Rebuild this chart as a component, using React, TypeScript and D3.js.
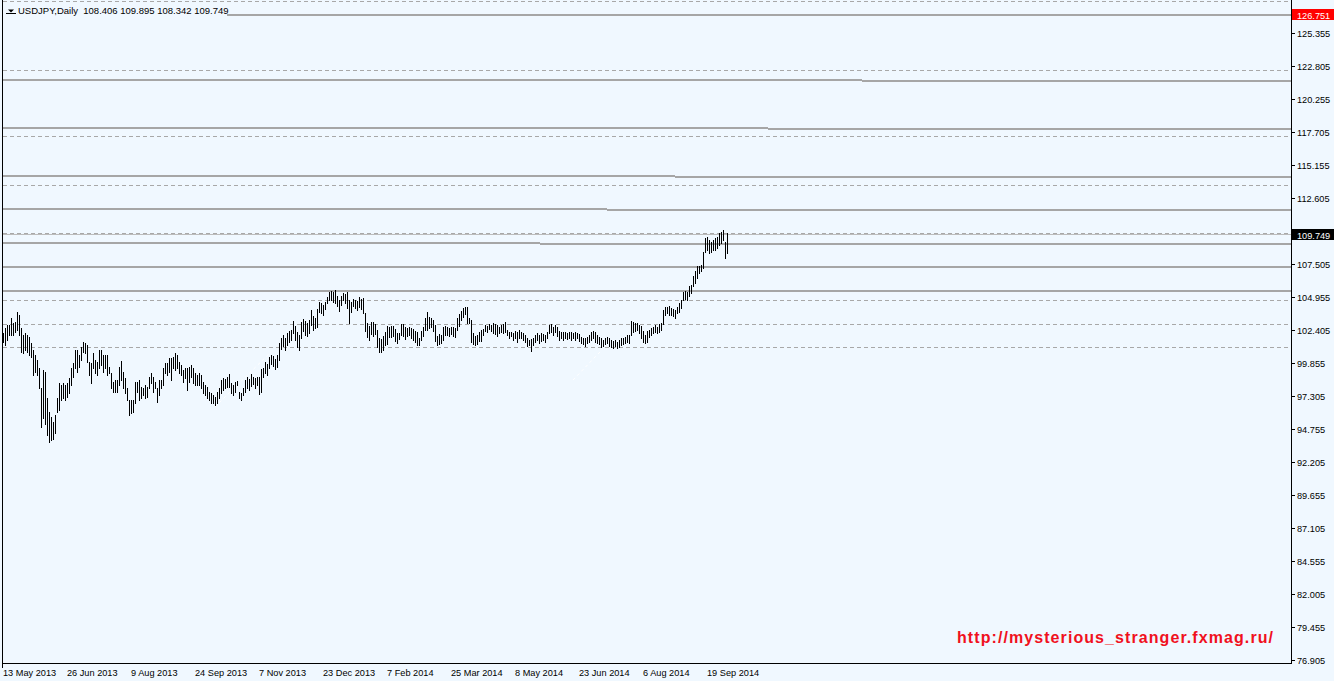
import React from 'react';
import * as d3 from 'd3';

const W = 1334;
const H = 681;
const BG = '#F0F8FF';

const symbolTitle = 'USDJPY,Daily';
const lastBarOHLC = [108.406, 109.895, 108.342, 109.749];

// Daily highs, 13 May 2013 .. 3 Oct 2014
const highs = [
  102.14, 102.53, 102.79, 102.79, 103.30, 102.92, 103.04, 103.77, 103.56, 102.53,
  102.01, 102.14, 102.01, 101.88, 101.37, 100.86, 100.46, 100.08, 99.44, 97.89,
  99.31, 99.17, 97.12, 96.09, 95.70, 95.31, 95.83, 97.12, 98.28, 98.15,
  98.28, 98.15, 98.28, 98.66, 99.44, 99.83, 100.86, 100.86, 100.46, 101.11,
  101.50, 101.37, 101.24, 99.95, 99.83, 100.60, 100.08, 99.95, 100.86, 100.86,
  100.46, 100.46, 100.46, 99.57, 99.05, 98.41, 98.54, 98.54, 99.57, 100.00,
  99.17, 98.66, 97.89, 96.99, 96.99, 96.99, 98.41, 98.41, 98.54, 98.02,
  97.89, 98.15, 98.02, 98.79, 99.05, 98.79, 98.41, 97.89, 98.54, 98.54,
  99.44, 99.83, 99.83, 100.21, 100.21, 100.33, 100.60, 100.46, 99.95, 99.70,
  99.31, 99.44, 99.44, 99.57, 99.70, 99.44, 99.05, 98.92, 99.05, 98.92,
  98.41, 98.15, 98.02, 97.63, 97.50, 97.37, 97.24, 97.63, 97.89, 98.54,
  98.66, 98.62, 98.79, 98.98, 98.28, 98.15, 98.41, 98.48, 97.63, 97.50,
  97.89, 98.54, 98.79, 98.60, 98.98, 98.80, 98.70, 98.80, 98.80, 99.37,
  99.45, 99.90, 99.77, 100.30, 100.46, 100.40, 100.20, 100.46, 101.40, 101.78,
  102.00, 101.78, 102.17, 102.30, 102.40, 103.10, 102.70, 102.24, 102.00, 103.00,
  103.25, 103.10, 102.95, 103.17, 103.95, 103.50, 103.30, 104.05, 104.60, 104.50,
  104.30, 104.57, 104.95, 105.34, 105.42, 105.34, 105.50, 105.03, 104.72, 105.03,
  105.26, 105.18, 105.34, 104.72, 104.57, 104.80, 104.72, 104.65, 104.95, 104.80,
  104.88, 103.72, 102.94, 102.71, 103.02, 103.02, 102.87, 102.40, 101.78, 101.70,
  101.94, 102.25, 102.70, 102.63, 102.70, 102.70, 102.48, 102.17, 102.17, 102.87,
  102.87, 102.63, 102.56, 102.63, 102.56, 102.48, 102.33, 102.25, 101.78, 102.33,
  102.63, 103.33, 103.80, 103.40, 103.33, 103.17, 102.79, 101.94, 102.10, 102.02,
  102.63, 102.71, 102.63, 102.56, 102.63, 102.63, 102.56, 103.33, 103.64, 103.87,
  104.10, 104.18, 104.18, 103.33, 103.17, 102.17, 101.94, 102.02, 102.25, 102.40,
  102.48, 102.79, 102.74, 102.85, 102.79, 102.92, 102.85, 102.79, 102.66, 102.79,
  102.85, 103.05, 102.40, 102.27, 102.27, 102.14, 102.33, 102.22, 102.40, 102.27,
  102.14, 102.01, 101.76, 101.63, 101.70, 101.76, 102.01, 102.14, 102.01, 102.14,
  102.07, 102.01, 102.27, 102.79, 102.85, 102.66, 102.79, 102.66, 102.33, 102.27,
  102.22, 102.22, 102.14, 102.27, 102.22, 102.14, 102.22, 102.14, 102.07, 101.88,
  101.76, 101.76, 101.88, 102.01, 102.27, 102.33, 102.22, 102.01, 101.88, 101.76,
  101.63, 101.81, 101.88, 101.76, 101.63, 101.55, 101.63, 101.50, 101.63, 101.76,
  101.76, 101.88, 102.01, 102.01, 103.09, 103.00, 102.95, 102.92, 102.79, 102.74,
  102.33, 102.01, 102.33, 102.40, 102.58, 102.66, 102.79, 102.66, 102.85, 102.92,
  103.95, 104.20, 104.20, 104.28, 104.10, 104.05, 103.95, 104.20, 104.46, 104.72,
  105.36, 105.42, 105.36, 105.80, 105.90, 106.57, 106.96, 107.35, 107.35, 107.43,
  108.46, 109.49, 109.62, 109.36, 109.20, 109.36, 109.49, 109.62, 109.88, 110.00,
  110.13, 109.23, 109.895,
];

const lows = [
  101.50, 101.24, 101.63, 102.01, 102.01, 102.01, 102.27, 102.40, 102.01, 100.72,
  100.60, 100.86, 100.72, 100.46, 100.33, 98.92, 99.17, 98.92, 97.89, 94.92,
  95.57, 95.18, 94.28, 93.76, 93.89, 94.02, 94.41, 96.09, 96.22, 96.99,
  97.12, 96.99, 97.24, 97.50, 98.15, 98.79, 99.44, 99.17, 99.57, 100.08,
  100.72, 100.60, 99.95, 98.92, 98.28, 99.44, 99.05, 98.92, 99.44, 99.70,
  99.17, 99.44, 98.92, 99.05, 97.89, 97.63, 97.63, 97.63, 98.15, 98.54,
  97.89, 97.50, 96.99, 95.83, 95.96, 96.09, 96.74, 97.63, 96.99, 97.12,
  97.37, 97.12, 97.24, 97.89, 98.28, 97.63, 97.89, 96.86, 97.37, 97.89,
  98.15, 99.05, 98.92, 99.17, 98.54, 99.44, 99.31, 99.44, 99.05, 98.92,
  98.41, 98.66, 97.76, 98.41, 98.79, 98.28, 98.15, 98.15, 98.15, 97.89,
  97.50, 97.37, 97.12, 96.99, 96.74, 96.74, 96.61, 96.74, 97.12, 97.50,
  97.76, 97.89, 98.02, 98.02, 97.50, 97.37, 97.63, 98.15, 97.12, 96.99,
  97.37, 97.60, 97.90, 97.80, 98.05, 98.20, 97.90, 98.15, 97.45, 97.60,
  98.77, 99.07, 98.92, 99.45, 99.77, 99.62, 99.40, 99.55, 100.10, 100.95,
  101.17, 100.86, 101.24, 101.47, 101.63, 102.17, 101.63, 101.10, 100.86, 101.78,
  102.30, 102.00, 101.93, 102.17, 102.80, 102.40, 102.55, 102.63, 103.80, 103.72,
  103.56, 104.00, 104.50, 104.72, 104.72, 104.57, 104.50, 104.26, 103.87, 104.34,
  104.72, 104.50, 104.10, 102.94, 103.80, 104.26, 104.10, 103.95, 104.18, 104.03,
  103.72, 102.33, 101.86, 101.63, 102.10, 101.94, 102.10, 101.09, 100.70, 100.70,
  100.86, 101.24, 101.32, 101.86, 101.86, 101.94, 101.55, 101.40, 101.70, 102.02,
  101.94, 101.70, 101.94, 102.02, 101.78, 101.63, 101.47, 101.24, 101.24, 101.63,
  101.94, 102.40, 102.40, 102.56, 102.63, 102.33, 101.55, 101.24, 101.32, 101.40,
  101.63, 102.02, 102.02, 101.94, 102.10, 101.94, 101.86, 102.40, 102.71, 103.18,
  103.41, 103.64, 102.94, 102.94, 101.47, 101.32, 101.24, 101.32, 101.55, 101.55,
  102.02, 102.33, 102.27, 102.48, 102.33, 102.14, 102.07, 101.94, 102.14, 102.27,
  102.14, 102.27, 102.01, 101.81, 101.94, 101.63, 101.76, 101.50, 101.76, 101.81,
  101.63, 101.50, 101.19, 101.24, 100.78, 101.24, 101.50, 101.63, 101.37, 101.57,
  101.63, 101.50, 101.76, 102.14, 102.27, 102.01, 102.27, 101.96, 101.63, 101.76,
  101.63, 101.81, 101.70, 101.76, 101.63, 101.76, 101.63, 101.76, 101.57, 101.37,
  101.30, 101.19, 101.37, 101.45, 101.63, 101.76, 101.50, 101.37, 101.30, 101.12,
  101.19, 101.30, 101.37, 101.19, 101.12, 101.04, 101.19, 101.04, 101.12, 101.24,
  101.30, 101.37, 101.50, 101.37, 102.01, 102.27, 102.33, 102.40, 102.14, 101.76,
  101.50, 101.37, 101.45, 101.88, 102.01, 102.14, 102.22, 102.14, 102.27, 102.40,
  102.85, 103.56, 103.70, 103.60, 103.56, 103.50, 103.30, 103.70, 103.80, 104.08,
  104.72, 104.80, 104.72, 105.00, 105.26, 105.80, 106.03, 106.42, 106.80, 106.96,
  107.17, 108.46, 108.59, 108.33, 108.46, 108.59, 108.59, 108.72, 108.98, 109.10,
  109.36, 107.94, 108.342,
];

const timeLabels = [
  '13 May 2013', '26 Jun 2013', '9 Aug 2013', '24 Sep 2013', '7 Nov 2013', '23 Dec 2013',
  '7 Feb 2014', '25 Mar 2014', '8 May 2014', '23 Jun 2014', '6 Aug 2014', '19 Sep 2014',
];
const timeLabelBars = [0, 32, 64, 96, 128, 160, 192, 224, 256, 288, 320, 352];

const priceLabels = [
  125.355, 122.805, 120.255, 117.705, 115.155, 112.605, 110.055, 107.505, 104.955, 102.405,
  99.855, 97.305, 94.755, 92.205, 89.655, 87.105, 84.555, 82.005, 79.455, 76.905,
];

const markerPrice = 126.751;
const bidPrice = 109.749;

// horizontal levels (solid, drawn with a one-pixel step at a given bar)
const solidLeft = [126.751, 121.723, 118.014, 114.305, 111.755, 109.128, 107.273, 105.419];
const solidRight = [126.751, 121.646, 117.937, 114.228, 111.678, 109.051, 107.273, 105.419];
const solidStepBar = [0, 429.25, 382.25, 335.75, 301.75, 268.25, 0, 0];

const dashedLevels = [127.789, 122.457, 117.357, 113.571, 109.862, 107.234, 104.684, 102.83, 101.053];

// faint white dashed trend segments: [bar, price] -> [bar, price]
const trendStart = [[106, 96.46], [285, 98.54]];
const trendEnd = [[134, 100.71], [298.5, 100.71]];

const watermark = 'http://mysterious_stranger.fxmag.ru/';

const FONT = '"Liberation Sans", Arial, sans-serif';

export default function App() {
  const plotLeft = 2;
  const plotRight = 1291;
  const plotBottom = 663;

  const x = d3.scaleLinear().domain([0, 362]).range([3, 727]);
  const y = d3.scaleLinear().domain([76.905, 125.355]).range([660, 33]);

  const px = (i: number) => Math.round(x(i)) + 0.5;
  const py1 = (p: number) => Math.floor(y(p)) + 0.5;

  const titleText = `${symbolTitle}  ${lastBarOHLC.map((v) => v.toFixed(3)).join(' ')}`;

  return (
    <svg
      width={W}
      height={H}
      viewBox={`0 0 ${W} ${H}`}
      style={{ position: 'absolute', left: 0, top: 0, display: 'block', background: BG }}
    >
      <rect x={0} y={0} width={W} height={H} fill={BG} />

      {/* dashed levels */}
      {dashedLevels.map((p, i) => (
        <line
          key={'d' + i}
          x1={plotLeft + 1}
          x2={plotRight}
          y1={py1(p)}
          y2={py1(p)}
          stroke="#a8a8a8"
          strokeWidth={1}
          strokeDasharray="4,3"
          shapeRendering="crispEdges"
        />
      ))}

      {/* solid levels */}
      {solidLeft.map((pl, i) => {
        const pr = solidRight[i];
        const stepX = solidStepBar[i] > 0 ? Math.round(x(solidStepBar[i])) : plotLeft + 1;
        const yl = Math.round(y(pl));
        const yr = Math.round(y(pr));
        return (
          <g key={'s' + i}>
            {stepX > plotLeft + 1 && (
              <line x1={plotLeft + 1} x2={stepX} y1={yl} y2={yl} stroke="#a6a6a6" strokeWidth={2} shapeRendering="crispEdges" />
            )}
            <line x1={stepX} x2={plotRight} y1={yr} y2={yr} stroke="#a6a6a6" strokeWidth={2} shapeRendering="crispEdges" />
          </g>
        );
      })}

      {/* bid line */}
      <line x1={plotLeft + 1} x2={plotRight} y1={py1(bidPrice)} y2={py1(bidPrice)} stroke="#bcbcbc" strokeWidth={1} shapeRendering="crispEdges" />

      {/* faint white trend segments */}
      {trendStart.map((s, i) => (
        <line
          key={'t' + i}
          x1={x(s[0])}
          y1={y(s[1])}
          x2={x(trendEnd[i][0])}
          y2={y(trendEnd[i][1])}
          stroke="#ffffff"
          strokeWidth={1}
          strokeDasharray="3,3"
        />
      ))}

      {/* bars */}
      {highs.map((h, i) => {
        const xx = px(i);
        const y1 = Math.round(y(h));
        const y2 = Math.round(y(lows[i])) + 1;
        return (
          <line key={'b' + i} x1={xx} x2={xx} y1={y1} y2={y2} stroke="#000" strokeWidth={1} shapeRendering="crispEdges" />
        );
      })}

      {/* frame */}
      <line x1={plotLeft + 0.5} x2={plotLeft + 0.5} y1={0} y2={plotBottom + 5} stroke="#000" shapeRendering="crispEdges" />
      <line x1={plotLeft} x2={plotRight + 1} y1={plotBottom + 0.5} y2={plotBottom + 0.5} stroke="#000" shapeRendering="crispEdges" />
      <line x1={plotRight + 0.5} x2={plotRight + 0.5} y1={0} y2={plotBottom + 1} stroke="#000" shapeRendering="crispEdges" />

      {/* price axis */}
      {priceLabels.map((p) => {
        const yy = Math.round(y(p));
        return (
          <g key={'p' + p}>
            <line x1={plotRight + 1} x2={plotRight + 4} y1={yy + 0.5} y2={yy + 0.5} stroke="#000" shapeRendering="crispEdges" />
            <text x={1297} y={yy + 3.5} fontFamily={FONT} fontSize={9.2} fill="#000">
              {p.toFixed(3)}
            </text>
          </g>
        );
      })}

      {/* marker label (red) */}
      {(() => {
        const yy = Math.round(y(markerPrice));
        return (
          <g>
            <rect x={plotRight + 1} y={yy - 6} width={W - plotRight - 1} height={11} fill="#ff0000" />
            <text x={1297} y={yy + 3.5} fontFamily={FONT} fontSize={9.2} fill="#fff">
              {markerPrice.toFixed(3)}
            </text>
          </g>
        );
      })()}

      {/* bid label (black) */}
      {(() => {
        const yy = Math.round(y(bidPrice));
        return (
          <g>
            <rect x={plotRight + 1} y={yy - 6} width={W - plotRight - 1} height={11} fill="#000" />
            <text x={1297} y={yy + 3.5} fontFamily={FONT} fontSize={9.2} fill="#fff">
              {bidPrice.toFixed(3)}
            </text>
          </g>
        );
      })()}

      {/* time axis */}
      {timeLabelBars.map((b, i) => (
        <text key={'tl' + i} x={Math.round(x(b))} y={676} fontFamily={FONT} fontSize={9.2} fill="#000">
          {timeLabels[i]}
        </text>
      ))}

      {/* title */}
      <rect x={plotLeft + 1} y={4} width={224} height={13} fill={BG} />
      <path d="M8,9.5 L14,9.5 L11,12.5 Z" fill="#000" />
      <line x1={6} x2={16} y1={13.5} y2={13.5} stroke="#000" shapeRendering="crispEdges" />
      <text x={18} y={14} fontFamily={FONT} fontSize={9.5} fill="#000" style={{ whiteSpace: 'pre' }}>
        {titleText}
      </text>

      {/* watermark */}
      <text
        x={957}
        y={643}
        fontFamily={FONT}
        fontWeight="bold"
        fontSize={16}
        fill="#f01020"
        textLength={316}
        lengthAdjust="spacing"
      >
        {watermark}
      </text>
    </svg>
  );
}
